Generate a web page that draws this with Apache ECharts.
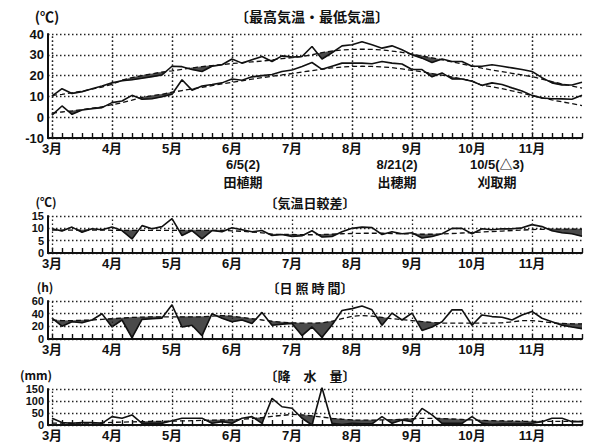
<!DOCTYPE html>
<html><head><meta charset="utf-8">
<script src="https://cdn.jsdelivr.net/npm/echarts@6/dist/echarts.min.js"></script>
<style>html,body{margin:0;padding:0;background:#fff}#c{width:590px;height:445px}</style>
</head><body><div id="c"></div>
<script>
// x = half-decade (半旬) index, 0 = 3月1半旬 ... 53 = 11月6半旬
const monthLabels = ['3月','4月','5月','6月','7月','8月','9月','10月','11月'];
const monthPos = [0,6,12,18,24,30,36,42,48];

const maxTempActual = [10.1,13.7,11.4,12.2,13.7,15,16.5,17.5,18,18.7, 19.5,20.3,24.5,24.3,22.9,22,24.5,25.2,28,26, 27.6,29.2,26.8,29.5,28.9,29.2,34,28,31,34.3, 34.8,36.3,34.8,33.2,34.3,32.4,30,28.4,26.3,28, 26.8,26.8,24.5,24.5,25.2,24.5,23.7,22.9,22,19, 16.5,15.5,15.5,16.8];
const maxTempNormal = [10.5,11,11.7,12.5,13.5,14.5,15.8,17.8,19,20, 20.8,21.7,22.3,23,23.7,24.3,24.8,25.3,25.8,26.2, 26.6,27,27.5,28.2,28.6,29.2,30,31,31.8,32.3, 32.6,32.7,32.6,32.3,31.8,31.2,30.3,29.4,28.5,27.6, 26.6,25.6,24.6,23.6,22.7,21.9,21.1,20.3,19.5,18.3, 17.1,16,15,14];
const minTempActual = [1,5.4,1.4,3.5,4.1,4.6,7,7.8,10.5,8.6, 8.9,9.8,11,18,13,15,15.7,16.5,18.4,17.8, 19.4,20,20.5,22,22.7,24.4,26.3,23,24.5,26, 26,26,25.7,26.8,26,25.6,22.9,22.9,19.4,21.3, 18.4,18.4,17.3,15.3,16.5,15.7,14.1,12.6,10.5,9.2, 8.9,8.8,8.6,10.5];
const minTempNormal = [2,2.5,3,3.6,4.3,5,6,7,8.2,9.5, 10.3,11,12,12.8,13.6,14.4,15.2,16,16.8,17.5, 18.3,19,19.7,20.3,21,21.7,22.4,23.1,23.7,24.1, 24.4,24.5,24.4,24.2,23.8,23.2,22.5,21.8,21,20.2, 19.3,18.4,17.4,15.3,14.6,13.7,12.7,11.6,10.4,9.3, 8.3,7.4,6.5,5.6];
const rangeActual = [9.8,8.9,10.5,8.4,9.8,9.4,10.5,9.1,5.7,11.1, 9.8,10.7,13.9,7.1,9.1,5.7,9.1,8.6,10.2,9.4, 8.6,9.1,7.1,7.5,6.7,7,9,6.5,6.7,8.6, 10,10.5,10.3,7.5,8.6,7.8,8.2,6.1,6.7,7.8, 10,10,7.8,9.8,9.4,9.8,9.8,10.2,11.5,10.7, 9,8.2,7.8,6.8];
const rangeNormal = [9.3,9.3,9.3,9.3,9.3,9.3,9.2,9.2,9.2,9.2, 9.2,9.2,9.2,9.2,9.2,9.2,9.2,9.2,9,8.8, 8.5,8.2,7.6,7.5,7.5,7.4,7.4,7.5,7.6,7.8, 7.9,8,8,8,7.9,7.8,7.7,7.6,7.6,7.7, 7.9,8.1,8.3,8.5,8.7,8.9,9.1,9.3,9.5,9.6, 9.7,9.7,9.7,9.7];
const sunActual = [32.8,20.2,27.3,25.6,30,39.8,19,30,2,31, 32,33,54,19,21.8,5.4,40,32.8,27.3,30, 24.6,42,21.8,23.5,24.6,5.4,19,2.6,22,45, 48,52,46,21.8,41,30,41,13.6,19,27.3, 46,46,21.8,38,35.4,34.4,30,38,43.6,32.8, 27.3,21.8,19,16.4];
const sunNormal = [30,29,29,29.5,30,31,32,33,34,34.5, 35,35,35,35,35,35,36,37,36,34, 32,30,28,26.5,25.5,25,25,25.5,28,32, 36,37,36,34,32,30.5,29,27.5,26,25, 25,25,25,25,25,25.5,27,29,29,27.5, 25.5,24.5,24,24];
const rainActual = [28,10,7,10,10,7,35,28,42,7, 7,7,18,28,28,28,7,14,7,28, 35,7,111,76,70,28,0,155,7,2, 7,5,5,35,7,21,14,69,42,7, 7,7,35,7,2,4,4,4,7,14, 28,28,14,14];
const rainNormal = [8,8,8,8,8,9,11,12,13,14, 15,15,16,17,18,19,20,21,22,24, 27,31,36,40,44,42,38,33,28,24, 21,20,20,21,22,24,26,28,28,27, 25,23,21,19,18,17,16,15,15,15, 15,15,15,15];

const yTicks1 = {min:-10, max:40, interval:10};
const yTicks2 = {min:0, max:15, interval:5};
const yTicks3 = {min:0, max:60, interval:20};
const yTicks4 = {min:0, max:150, interval:50};

const NUMFONT = '"Liberation Sans", "Noto Sans CJK JP", sans-serif';
const JPFONT = '"Noto Sans CJK JP", "Liberation Sans", sans-serif';
const INK = '#111';
const SHADE = '#4a4a4a';
const DOT = [1.5, 2.5];

const grids = [
  {left:48, width:534, top:34, height:104},
  {left:48, width:534, top:216, height:37},
  {left:48, width:534, top:301, height:38},
  {left:48, width:534, top:389, height:36}
];
const tickVals = [];
for (let i = 0; i <= 53; i++) tickVals.push(i);

const xAxes = grids.map((g, gi) => ({
  gridIndex: gi, type: 'value', min: -0.4, max: 53,
  axisLine: {show: true, onZero: false, lineStyle: {color: INK, width: 2}},
  axisTick: {show: true, inside: true, length: 5, customValues: tickVals, lineStyle: {color: INK, width: 1.4}},
  axisLabel: {show: true, customValues: monthPos, formatter: v => monthLabels[Math.round(v / 6)],
    color: INK, fontSize: 13, fontWeight: 'bold', fontFamily: NUMFONT, margin: 4, hideOverlap: false},
  splitLine: {show: false}
}));
const yAxes = [yTicks1, yTicks2, yTicks3, yTicks4].map((t, gi) => ({
  gridIndex: gi, type: 'value', min: t.min, max: t.max, interval: t.interval,
  axisLine: {show: true, onZero: false, lineStyle: {color: INK, width: 2}},
  axisTick: {show: false},
  axisLabel: {color: INK, fontSize: gi === 0 ? 13 : 11, lineHeight: gi === 0 ? 14 : 10, fontWeight: 'bold',
    fontFamily: NUMFONT, margin: 4, showMinLabel: true, showMaxLabel: true, hideOverlap: false},
  splitLine: {show: true, lineStyle: {color: '#222', width: 1.3, type: DOT}}
}));

// segments of the "below normal" band, with crossing points inserted
function bandSegments(a, n) {
  const pts = [];
  for (let i = 0; i < a.length; i++) {
    pts.push([i, Math.min(a[i], n[i]), n[i]]);
    if (i < a.length - 1) {
      const d0 = a[i] - n[i], d1 = a[i + 1] - n[i + 1];
      if (d0 * d1 < 0) {
        const t = d0 / (d0 - d1);
        const y = n[i] + t * (n[i + 1] - n[i]);
        pts.push([i + t, y, y]);
      }
    }
  }
  const segs = [];
  for (let k = 0; k < pts.length - 1; k++) {
    const p = pts[k], q = pts[k + 1];
    if (p[2] - p[1] > 1e-9 || q[2] - q[1] > 1e-9) segs.push([p[0], p[1], p[2], q[0], q[1], q[2]]);
  }
  return segs;
}

const series = [];
function addPanel(gi, actual, normal, noClip) {
  series.push({
    type: 'custom', coordinateSystem: 'cartesian2d', xAxisIndex: gi, yAxisIndex: gi, silent: true, z: 1,
    data: bandSegments(actual, normal),
    encode: {x: [0, 3], y: [1, 2, 4, 5]},
    clip: !noClip,
    renderItem: (params, api) => {
      const a = api.coord([api.value(0), api.value(1)]);
      const b = api.coord([api.value(3), api.value(4)]);
      const c = api.coord([api.value(3), api.value(5)]);
      const d = api.coord([api.value(0), api.value(2)]);
      return {type: 'polygon', shape: {points: [a, b, c, d]}, style: {fill: SHADE, stroke: SHADE, lineWidth: 0.6}};
    }
  });
  series.push({
    type: 'line', xAxisIndex: gi, yAxisIndex: gi, silent: true, z: 3, symbol: 'none',
    data: normal.map((v, i) => [i, v]),
    lineStyle: {color: INK, width: 1.3, type: [5, 3]},
    markLine: {silent: true, symbol: 'none', label: {show: false}, animation: false,
      lineStyle: {color: '#222', width: 1.3, type: DOT},
      data: monthPos.map(m => ({xAxis: m}))}
  });
  series.push({
    type: 'line', xAxisIndex: gi, yAxisIndex: gi, silent: true, z: 4, symbol: 'none', clip: !noClip,
    data: actual.map((v, i) => [i, v]),
    lineStyle: {color: INK, width: 1.6}
  });
}
addPanel(0, maxTempActual, maxTempNormal);
addPanel(0, minTempActual, minTempNormal);
addPanel(1, rangeActual, rangeNormal);
addPanel(2, sunActual, sunNormal);
addPanel(3, rainActual, rainNormal, true);

function txt(s, x, y, size, font) {
  return {type: 'text', x: x, y: y, silent: true,
    style: {text: s, fill: INK, font: 'bold ' + size + 'px ' + (font || JPFONT),
      align: 'center', verticalAlign: 'middle', textAlign: 'center', textVerticalAlign: 'middle'}};
}
const texts = [
  ['(℃)', 47, 16, 14], ['〔最高気温・最低気温〕', 312, 16, 14],
  ['6/5(2)', 243, 164, 13, NUMFONT], ['田植期', 243, 181, 13],
  ['8/21(2)', 397, 164, 13, NUMFONT], ['出穂期', 397, 181, 13],
  ['10/5(△3)', 497, 164, 13, NUMFONT], ['刈取期', 497, 181, 13],
  ['(℃)', 46, 201, 12], ['〔気温日較差〕', 310, 202, 13],
  ['(h)', 45, 286, 12], ['〔日 照 時 間〕', 310, 287, 13],
  ['(mm)', 36, 374, 12], ['〔降　水　量〕', 310, 375, 13]
];

const chart = echarts.init(document.getElementById('c'), null, {renderer: 'svg', width: 590, height: 445});
chart.setOption({
  animation: false,
  backgroundColor: '#fff',
  grid: grids,
  xAxis: xAxes,
  yAxis: yAxes,
  series: series,
  graphic: texts.map(t => txt(t[0], t[1], t[2], t[3], t[4]))
});
</script></body></html>
